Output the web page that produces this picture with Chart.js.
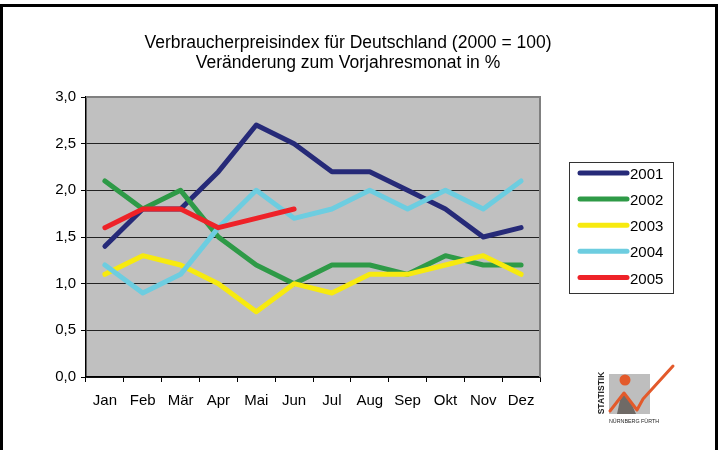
<!DOCTYPE html>
<html>
<head>
<meta charset="utf-8">
<script src="https://cdn.jsdelivr.net/npm/chart.js@4.4.0/dist/chart.umd.min.js"></script>
<style>
  html, body { margin: 0; padding: 0; background: #fff; }
  #wrap { position: relative; width: 721px; height: 450px; overflow: hidden; }
  #frame { position: absolute; left: 0; top: 4px; width: 718px; height: 600px; border: 3px solid #000; box-sizing: border-box; }
  canvas { position: absolute; left: 0; top: 0; }
</style>
</head>
<body>
<div id="wrap">
  <div id="frame"></div>
  <canvas id="cpiChart" width="721" height="450"></canvas>
</div>
<script>
// Verbraucherpreisindex — monthly change vs. previous year, 2001–2005

const months = ['Jan', 'Feb', 'Mär', 'Apr', 'Mai', 'Jun', 'Jul', 'Aug', 'Sep', 'Okt', 'Nov', 'Dez'];
const years = ['2001', '2002', '2003', '2004', '2005'];
const v2001 = [1.4, 1.8, 1.8, 2.2, 2.7, 2.5, 2.2, 2.2, 2.0, 1.8, 1.5, 1.6];
const v2002 = [2.1, 1.8, 2.0, 1.5, 1.2, 1.0, 1.2, 1.2, 1.1, 1.3, 1.2, 1.2];
const v2003 = [1.1, 1.3, 1.2, 1.0, 0.7, 1.0, 0.9, 1.1, 1.1, 1.2, 1.3, 1.1];
const v2004 = [1.2, 0.9, 1.1, 1.6, 2.0, 1.7, 1.8, 2.0, 1.8, 2.0, 1.8, 2.1];
const v2005 = [1.6, 1.8, 1.8, 1.6, 1.7, 1.8];
const yTickLabels = ['0,0', '0,5', '1,0', '1,5', '2,0', '2,5', '3,0'];
const titleLines = ['Verbraucherpreisindex für Deutschland (2000 = 100)', 'Veränderung zum Vorjahresmonat in %'];

const FONT = '"Liberation Sans", Arial, sans-serif';
const colors = ['#262A78', '#2E9A47', '#F7EA0F', '#6DCDE0', '#EE2228'];
const seriesValues = [v2001, v2002, v2003, v2004, v2005];

function drawLogo(ctx) {
  ctx.save();
  ctx.fillStyle = '#BEBEBE';
  ctx.fillRect(609, 374, 41, 40);
  ctx.fillStyle = '#6F6A66';
  ctx.beginPath();
  ctx.moveTo(617, 414); ctx.lineTo(620, 400); ctx.lineTo(624, 394); ctx.lineTo(630, 400); ctx.lineTo(636, 414);
  ctx.closePath(); ctx.fill();
  ctx.fillStyle = '#E35A2B';
  ctx.beginPath(); ctx.arc(625, 380, 5.5, 0, Math.PI * 2); ctx.fill();
  ctx.strokeStyle = '#E35A2B';
  ctx.lineWidth = 3; ctx.lineJoin = 'round'; ctx.lineCap = 'round';
  ctx.beginPath();
  ctx.moveTo(610, 411); ctx.lineTo(624, 393); ctx.lineTo(637, 410);
  ctx.lineTo(643, 399); ctx.lineTo(673, 366);
  ctx.stroke();
  ctx.fillStyle = '#222';
  ctx.font = 'bold 8.5px ' + FONT;
  ctx.textAlign = 'center'; ctx.textBaseline = 'middle';
  ctx.save();
  ctx.translate(602, 393); ctx.rotate(-Math.PI / 2);
  ctx.fillText('STATISTIK', 0, 0, 43);
  ctx.restore();
  ctx.font = '6px ' + FONT;
  ctx.fillText('NÜRNBERG FÜRTH', 634, 421, 50);
  ctx.restore();
}

const decor = {
  id: 'decor',
  beforeDraw(chart) {
    const { ctx, chartArea: a } = chart;
    ctx.save();
    ctx.fillStyle = '#C0C0C0';
    ctx.fillRect(a.left, a.top, a.right - a.left, a.bottom - a.top);
    ctx.restore();
  },
  beforeDatasetsDraw(chart) {
    const { ctx, chartArea: a } = chart;
    ctx.save();
    ctx.strokeStyle = '#808080';
    ctx.lineWidth = 2;
    ctx.beginPath();
    ctx.moveTo(a.left, a.top); ctx.lineTo(a.right, a.top); ctx.lineTo(a.right, a.bottom);
    ctx.stroke();
    ctx.restore();
  },
  afterDraw(chart) {
    const ctx = chart.ctx;
    ctx.save();
    // title
    ctx.fillStyle = '#000';
    ctx.font = '17.5px ' + FONT;
    ctx.textAlign = 'center';
    ctx.textBaseline = 'alphabetic';
    ctx.fillText(titleLines[0], 348, 48);
    ctx.fillText(titleLines[1], 348, 68);
    // legend
    ctx.strokeStyle = '#333';
    ctx.lineWidth = 1;
    ctx.strokeRect(569.5, 162.5, 104, 131);
    ctx.font = '15px ' + FONT;
    ctx.textAlign = 'left';
    ctx.textBaseline = 'middle';
    chart.data.datasets.forEach((ds, i) => {
      const y = 173 + i * 26.1;
      ctx.strokeStyle = ds.borderColor;
      ctx.lineWidth = 5;
      ctx.lineCap = 'round';
      ctx.beginPath(); ctx.moveTo(580, y); ctx.lineTo(627, y); ctx.stroke();
      ctx.fillStyle = '#000';
      ctx.fillText(ds.label, 630, y + 2);
    });
    ctx.restore();
    drawLogo(ctx);
  }
};

new Chart(document.getElementById('cpiChart').getContext('2d'), {
  type: 'line',
  data: {
    labels: months,
    datasets: years.map((y, i) => ({
      label: y,
      data: seriesValues[i],
      borderColor: colors[i],
      backgroundColor: colors[i],
      borderWidth: 5,
      borderCapStyle: 'round',
      borderJoinStyle: 'round',
      pointRadius: 0,
      tension: 0,
      fill: false,
      order: years.length - i,
    }))
  },
  options: {
    responsive: false,
    animation: false,
    layout: { padding: { top: 97, left: 0, right: 181, bottom: 0 } },
    plugins: {
      legend: { display: false },
      title: { display: false },
      tooltip: { enabled: false },
    },
    scales: {
      x: {
        offset: true,
        afterFit: s => { s.height = 73; },
        grid: { display: true, offset: true, drawOnChartArea: false, drawTicks: true, tickLength: 5, tickColor: '#000' },
        border: { color: '#000', width: 1.5 },
        ticks: { color: '#000', font: { family: FONT, size: 15 }, padding: 10, maxRotation: 0 },
      },
      y: {
        min: 0,
        max: 3,
        afterFit: s => { s.width = 86; },
        grid: { color: '#222', lineWidth: 1, tickLength: 5, tickColor: '#000' },
        border: { color: '#000', width: 1.5 },
        ticks: {
          stepSize: 0.5,
          color: '#000',
          padding: 5,
          font: { family: FONT, size: 15 },
          callback: (v, i) => yTickLabels[i],
        },
      }
    }
  },
  plugins: [decor]
});
</script>
</body>
</html>
